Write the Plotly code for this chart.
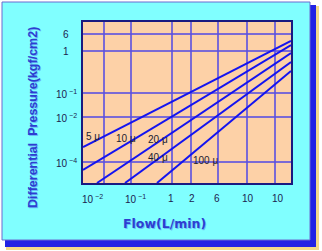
import plotly.graph_objects as go

# Axis units: chart's own (non-uniform) scale, gridline positions along each axis
x_grid = [21, 48, 89, 108, 135, 164, 192]
y_grid = [21, 66, 90, 132, 149]

# Tick labels (and where their centres sit along each axis)
x_tick_text = ["10<sup> −2</sup>", "10<sup> −1</sup>", "1", "2", "6", "10", "10"]
x_tick_pos = [9, 52, 88, 109, 134, 165, 195]
y_tick_text = ["10<sup> −4</sup>", "10<sup> −2</sup>", "10<sup> −1</sup>", "1", "6"]
y_tick_pos = [21, 66, 90, 133, 150]

# Filter curves (start and end points in axis units)
series_names = ["5 μ", "10 μ", "20 μ", "40 μ", "100 μ"]
series_x = [[0, 208], [0, 208], [14, 208], [42, 208], [74, 208]]
series_y = [[36, 142], [13, 138], [0, 130], [0, 121], [0, 112]]

# Curve label positions
label_x = [10, 43, 75, 75, 122]
label_y = [47, 45, 44, 26, 23]

W, H = 322, 251
L, R, T, B = 83, 291, 22, 183


def px(x):
    return (x - L) / (R - L)


def py(y):
    return (B - y) / (B - T)


fig = go.Figure()
for xs, ys in zip(series_x, series_y):
    fig.add_trace(go.Scatter(x=xs, y=ys, mode="lines",
                             line=dict(color="#1414F0", width=2),
                             showlegend=False, hoverinfo="skip"))

shapes = [
    dict(type="rect", xref="paper", yref="paper", x0=px(6), x1=px(319),
         y0=py(6), y1=py(250), fillcolor="#F2D98A", line=dict(width=0), layer="below"),
    dict(type="rect", xref="paper", yref="paper", x0=px(5), x1=px(316),
         y0=py(5), y1=py(247), fillcolor="#2222E4", line=dict(width=0), layer="below"),
    dict(type="rect", xref="paper", yref="paper", x0=px(2), x1=px(310),
         y0=py(2), y1=py(240), fillcolor="#80FFFF",
         line=dict(color="#6A6AD0", width=1), layer="below"),
    dict(type="rect", xref="paper", yref="paper", x0=0, x1=1, y0=0, y1=1,
         fillcolor="#FDD1A7", line=dict(width=0), layer="below"),
]

ann = []
for t, xv in zip(x_tick_text, x_tick_pos):
    ann.append(dict(x=xv, y=0, xref="x", yref="paper", text=t, showarrow=False,
                    xanchor="center", yanchor="top", yshift=-8,
                    font=dict(size=10, color="#1C1C50")))
for t, yv in zip(y_tick_text, y_tick_pos):
    ann.append(dict(x=0, y=yv, xref="paper", yref="y", text=t, showarrow=False,
                    xanchor="center", yanchor="middle", xshift=-17, yshift=-1,
                    font=dict(size=10, color="#1C1C50")))
for t, xv, yv in zip(series_names, label_x, label_y):
    ann.append(dict(x=xv, y=yv, xref="x", yref="y", text=t, showarrow=False,
                    xanchor="center", yanchor="middle",
                    font=dict(size=10, color="#1C1C30")))

# axis titles with a soft glow underneath
for dx, dy, col in [(1, -1, "rgba(60,60,235,0.35)"), (0, 0, "#2E3ED0")]:
    ann.append(dict(x=px(164), y=py(223), xref="paper", yref="paper",
                    text="<b>Flow(L/min)</b>", showarrow=False,
                    xanchor="center", yanchor="middle", xshift=dx, yshift=dy,
                    font=dict(size=12.5, color=col, family="DejaVu Sans")))
    ann.append(dict(x=px(33), y=py(118), xref="paper", yref="paper",
                    text="<b>Differential&nbsp;&nbsp;Pressure(kgf/cm2)</b>",
                    showarrow=False, textangle=-90, xshift=dx, yshift=dy,
                    xanchor="center", yanchor="middle",
                    font=dict(size=12.5, color=col, family="Liberation Sans")))

fig.update_layout(
    width=W, height=H,
    margin=dict(l=L, r=W - R, t=T, b=H - B),
    paper_bgcolor="white",
    plot_bgcolor="rgba(0,0,0,0)",
    shapes=shapes,
    annotations=ann,
    font=dict(family="Liberation Sans"),
    xaxis=dict(range=[0, 208], tickvals=x_grid, showticklabels=False, ticks="",
               showgrid=True, gridcolor="rgba(90,80,225,0.8)", gridwidth=2,
               zeroline=False, showline=True, mirror=True,
               linecolor="#1A1A80", linewidth=1.5, fixedrange=True),
    yaxis=dict(range=[0, 161], tickvals=y_grid, showticklabels=False, ticks="",
               showgrid=True, gridcolor="rgba(90,80,225,0.8)", gridwidth=2,
               zeroline=False, showline=True, mirror=True,
               linecolor="#1A1A80", linewidth=1.5, fixedrange=True),
)

fig.write_html("out.html", config={"displayModeBar": False})
